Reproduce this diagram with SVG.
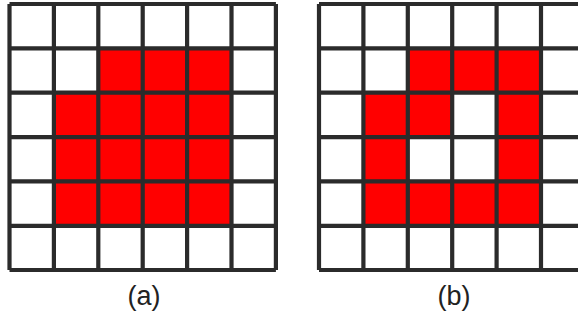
<svg xmlns="http://www.w3.org/2000/svg" width="578" height="320" viewBox="0 0 578 320">
<style>
.bg{fill:#ffffff}
.r{fill:#ff0000}
.g{fill:none;stroke:#2b2b2b;stroke-width:4.2}
.lbl{font-family:"Liberation Sans",Arial,sans-serif;font-size:27px;fill:#222;text-anchor:middle}
</style>
<defs>
<pattern id="grid" x="0" y="0" width="44.4" height="44.35" patternUnits="userSpaceOnUse">
</pattern>
</defs>
<rect class="bg" x="0" y="0" width="578" height="320"/>
<g id="gridA">
<rect class="r" x="98.3" y="48.3" width="133.2" height="44.4"/>
<rect class="r" x="53.9" y="92.7" width="177.6" height="133.1"/>
<path class="g" d="M9.5 4V270M53.9 4V270M98.3 4V270M142.7 4V270M187.1 4V270M231.5 4V270M275.9 4V270M9.5 4H275.9M9.5 48.3H275.9M9.5 92.7H275.9M9.5 137.1H275.9M9.5 181.4H275.9M9.5 225.8H275.9M9.5 270H275.9"/>
</g>
<g id="gridB">
<rect class="r" x="407.8" y="48.3" width="133.2" height="44.4"/>
<rect class="r" x="363.4" y="92.7" width="88.8" height="44.4"/>
<rect class="r" x="496.6" y="92.7" width="44.4" height="133.1"/>
<rect class="r" x="363.4" y="137.1" width="44.4" height="88.7"/>
<rect class="r" x="363.4" y="181.4" width="177.6" height="44.4"/>
<path class="g" d="M319 4V270M363.4 4V270M407.8 4V270M452.2 4V270M496.6 4V270M541 4V270M585.4 4V270M319 4H590M319 48.3H590M319 92.7H590M319 137.1H590M319 181.4H590M319 225.8H590M319 270H590"/>
</g>
<g id="labels">
<text class="lbl" x="144" y="304.5">(a)</text>
<text class="lbl" x="454" y="304.5">(b)</text>
</g>
</svg>
